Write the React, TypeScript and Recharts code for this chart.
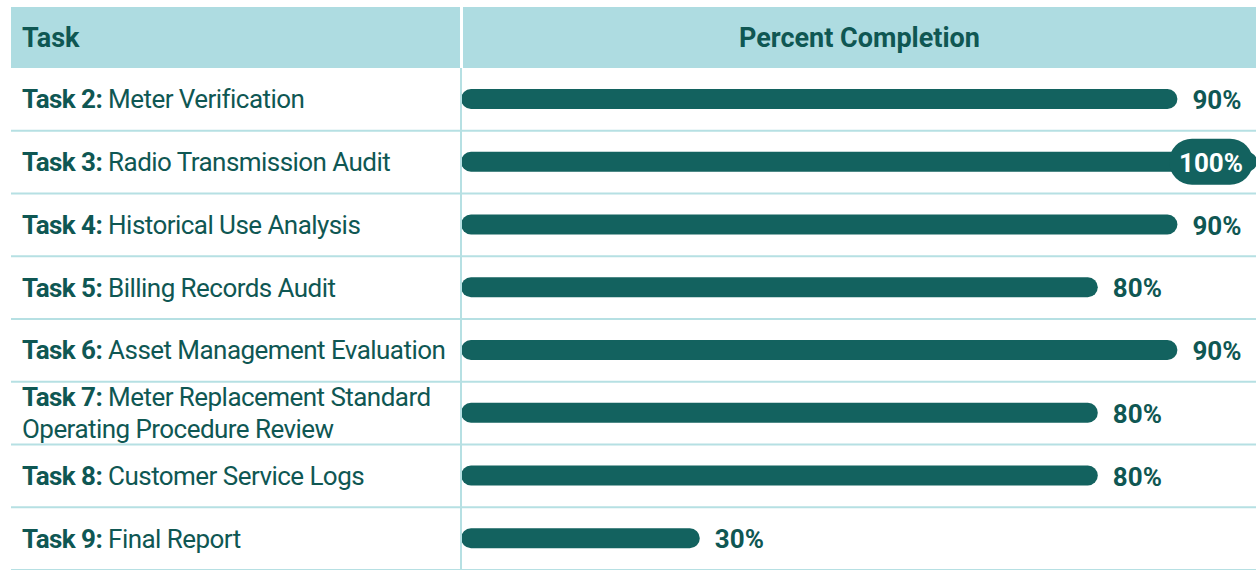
import React from 'react';
import { BarChart, Bar, XAxis, YAxis, LabelList, ReferenceLine } from 'recharts';

// task table
const taskNumbers = ['Task 2:', 'Task 3:', 'Task 4:', 'Task 5:', 'Task 6:', 'Task 7:', 'Task 8:', 'Task 9:'];
const taskNames = [
    'Meter Verification',
    'Radio Transmission Audit',
    'Historical Use Analysis',
    'Billing Records Audit',
    'Asset Management Evaluation',
    'Meter Replacement Standard Operating Procedure Review',
    'Customer Service Logs',
    'Final Report',
];
const percentComplete = [90, 100, 90, 80, 90, 80, 80, 30];
const headers = ['Task', 'Percent Completion'];

const data = taskNames.map((name, i) => ({
    task: `${taskNumbers[i]} ${name}`,
    num: taskNumbers[i],
    name,
    pct: percentComplete[i],
}));

const W = 1256;
const H = 570;
const TOP = 68;
const LEFT = 11;
const COL_W = 450;
const ROW_H = (H - TOP) / data.length;
const FONT = 'Roboto, "Liberation Sans", sans-serif';
const DARK = '#0f5753';
const BAR = '#13625f';
const HEAD_BG = '#aedce1';
const LINE = '#b6e0e3';

const TaskTick = (props: any) => {
    const { y, payload } = props;
    const row = data[payload.index];
    const lines: string[] = [];
    let cur = row.num;
    row.name.split(' ').forEach((w: string) => {
        if ((cur + ' ' + w).length > 35) {
            lines.push(cur);
            cur = w;
        } else {
            cur = cur + ' ' + w;
        }
    });
    lines.push(cur);
    const lineH = 32;
    const y0 = y - ((lines.length - 1) * lineH) / 2;
    return (
        <g>
            <line x1={LEFT} x2={W} y1={y + ROW_H / 2} y2={y + ROW_H / 2} stroke={LINE} strokeWidth={2} />
            <text
                x={22}
                y={y0}
                dominantBaseline="central"
                fill={DARK}
                fontSize={26}
                fontFamily={FONT}
                letterSpacing={-0.55}
                style={{ whiteSpace: 'pre' }}
            >
                {lines.map((ln, i) => (
                    <tspan key={i} x={22} dy={i === 0 ? 0 : lineH}>
                        {i === 0 && <tspan fontWeight={700}>{row.num}</tspan>}
                        {i === 0 ? ln.slice(row.num.length) : ln}
                    </tspan>
                ))}
            </text>
        </g>
    );
};

const PctLabel = (props: any) => {
    const { x, y, width, height, value } = props;
    const cy = y + height / 2;
    const end = x + width;
    if (value >= 100) {
        return (
            <g>
                <rect x={end - 88} y={cy - 23} width={84} height={46} rx={23} fill={BAR} />
                <text x={end - 46} y={cy + 1} textAnchor="middle" dominantBaseline="central" fill="#fff" fontSize={26} fontWeight={700} fontFamily={FONT}>
                    {value}%
                </text>
            </g>
        );
    }
    return (
        <text x={end + 15} y={cy + 1} dominantBaseline="central" fill={DARK} fontSize={26} fontWeight={700} fontFamily={FONT}>
            {value}%
        </text>
    );
};

export default function App() {
    const headStyle: React.CSSProperties = {
        position: 'absolute',
        top: 7,
        height: TOP - 7,
        background: HEAD_BG,
        color: DARK,
        fontFamily: FONT,
        fontWeight: 700,
        fontSize: 27,
        display: 'flex',
        alignItems: 'center',
    };
    return (
        <div style={{ position: 'absolute', left: 0, top: 0, width: W, height: H, overflow: 'hidden', background: '#fff' }}>
            <div style={{ ...headStyle, left: LEFT, width: COL_W - 1, paddingLeft: 11, boxSizing: 'border-box' }}>{headers[0]}</div>
            <div style={{ ...headStyle, left: LEFT + COL_W + 2, width: W - LEFT - COL_W - 2, justifyContent: 'center' }}>{headers[1]}</div>
            <div style={{ position: 'absolute', left: 0, top: 0 }}>
                <BarChart
                    width={W + 1}
                    height={H}
                    data={data}
                    layout="vertical"
                    margin={{ top: TOP, right: 0, bottom: 0, left: LEFT }}
                    barCategoryGap={0}
                >
                    <XAxis type="number" domain={[0, 100]} hide />
                    <YAxis
                        type="category"
                        dataKey="task"
                        width={COL_W}
                        axisLine={false}
                        tickLine={false}
                        interval={0}
                        tick={<TaskTick />}
                    />
                    <ReferenceLine x={0} stroke={LINE} strokeWidth={2} />
                    <Bar dataKey="pct" fill={BAR} barSize={20} radius={10} isAnimationActive={false}>
                        <LabelList dataKey="pct" content={<PctLabel />} />
                    </Bar>
                </BarChart>
            </div>
        </div>
    );
}
